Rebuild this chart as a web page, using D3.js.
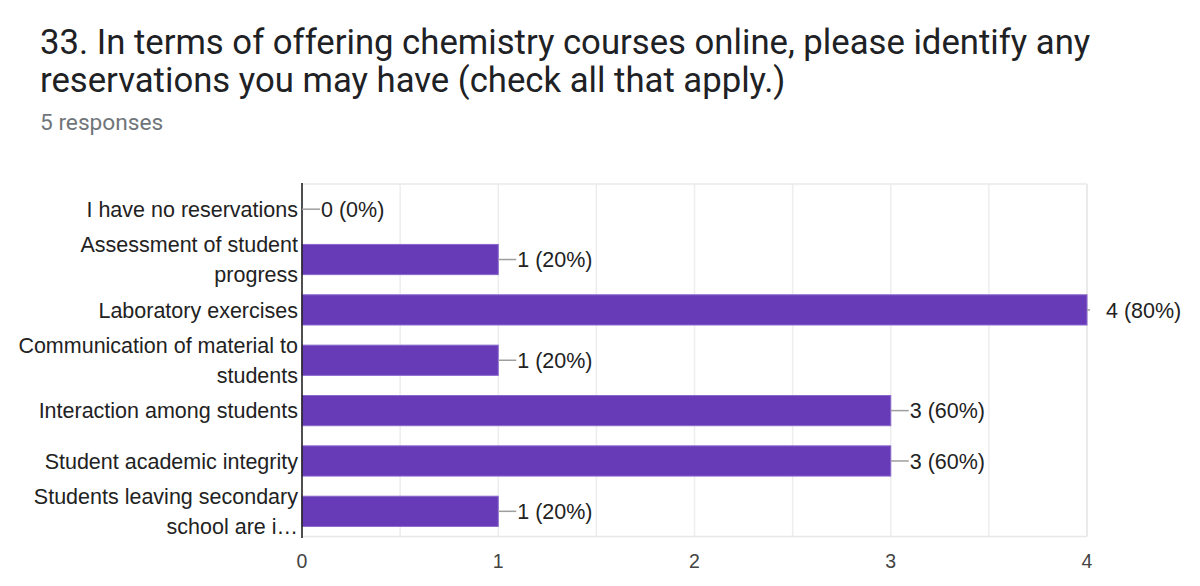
<!DOCTYPE html>
<html>
<head>
<meta charset="utf-8">
<script src="https://cdn.jsdelivr.net/npm/d3@7/dist/d3.min.js"></script>
<style>
  html, body { margin: 0; padding: 0; background: #fff; }
  svg { display: block; }
</style>
</head>
<body>
<svg id="chart" width="1200" height="586"></svg>
<script>
const titleLines = [
  "33. In terms of offering chemistry courses online, please identify any",
  "reservations you may have (check all that apply.)"
];
const subtitle = "5 responses";
const categories = [
  "I have no reservations",
  "Assessment of student\nprogress",
  "Laboratory exercises",
  "Communication of material to\nstudents",
  "Interaction among students",
  "Student academic integrity",
  "Students leaving secondary\nschool are i\u2026"
];
const counts = [0, 1, 4, 1, 3, 3, 1];
const percents = [0, 20, 80, 20, 60, 60, 20];
const xTicks = [0, 1, 2, 3, 4];
const gridValues = [0.5, 1, 1.5, 2, 2.5, 3, 3.5, 4];

const svg = d3.select("#chart");
const pLeft = 302, pRight = 1087, pTop = 184, pBottom = 536.5;
const labelFont = "Liberation Sans, Arial, sans-serif";

const x = d3.scaleLinear().domain([0, 4]).range([pLeft, pRight]);
const y = d3.scaleBand().domain(categories).range([pTop, pBottom])
  .paddingInner(0.4).paddingOuter(0.2);

// Title
svg.append("g").selectAll("text").data(titleLines).join("text")
  .attr("x", 40).attr("y", (d, i) => 54 + i * 38)
  .attr("font-family", "Roboto, sans-serif")
  .attr("font-size", 34.7).attr("fill", "#202124")
  .text(d => d);
svg.append("text").attr("x", 40).attr("y", 130)
  .attr("font-family", "Roboto, sans-serif")
  .attr("font-size", 22.7).attr("fill", "#70757a")
  .text(subtitle);

// Grid
const grid = svg.append("g");
grid.selectAll("line").data(gridValues).join("line")
  .attr("x1", d => x(d)).attr("x2", d => x(d))
  .attr("y1", pTop).attr("y2", pBottom)
  .attr("stroke", d => d === 4 ? "#e3e3e3" : "#ededed").attr("stroke-width", 1.5);
grid.append("line").attr("x1", pLeft).attr("x2", pRight).attr("y1", pTop).attr("y2", pTop)
  .attr("stroke", "#e8e8e8").attr("stroke-width", 1.5);
grid.append("line").attr("x1", pLeft).attr("x2", pRight).attr("y1", pBottom).attr("y2", pBottom)
  .attr("stroke", "#e8e8e8").attr("stroke-width", 1.5);

// Bars
const rows = categories.map((c, i) => ({ c, v: counts[i], p: percents[i] }));
svg.append("g").selectAll("rect").data(rows.filter(d => d.v > 0)).join("rect")
  .attr("x", x(0)).attr("y", d => y(d.c))
  .attr("width", d => x(d.v) - x(0)).attr("height", y.bandwidth())
  .attr("fill", "#673ab7").attr("stroke", "#8a68cc").attr("stroke-width", 1);

// Zero axis
svg.append("line").attr("x1", x(0)).attr("x2", x(0)).attr("y1", pTop - 1).attr("y2", pBottom + 1.5)
  .attr("stroke", "#222").attr("stroke-width", 1.6);

// Value labels
const vl = svg.append("g").selectAll("g").data(rows).join("g");
vl.append("line")
  .attr("x1", d => x(d.v)).attr("x2", d => x(d.v) + (d.v === 4 ? 3 : 18))
  .attr("y1", d => y(d.c) + y.bandwidth() / 2).attr("y2", d => y(d.c) + y.bandwidth() / 2)
  .attr("stroke", "#9e9e9e").attr("stroke-width", 1.5);
vl.append("text")
  .attr("x", d => x(d.v) + 19)
  .attr("y", d => y(d.c) + y.bandwidth() / 2)
  .attr("dy", "0.36em")
  .attr("font-family", labelFont)
  .attr("font-size", 21.5).attr("fill", "#222")
  .text(d => `${d.v} (${d.p}%)`);

// Category labels
const cl = svg.append("g").selectAll("text").data(categories).join("text")
  .attr("text-anchor", "end")
  .attr("font-family", labelFont)
  .attr("font-size", 21.5).attr("fill", "#222");
cl.each(function (d) {
  const lines = d.split("\n");
  const cy = y(d) + y.bandwidth() / 2;
  const t = d3.select(this);
  lines.forEach((ln, i) => {
    t.append("tspan").attr("x", 298)
      .attr("y", cy + (i - (lines.length - 1) / 2) * 30)
      .attr("dy", "0.36em").text(ln);
  });
});

// X axis tick labels
svg.append("g").selectAll("text").data(xTicks).join("text")
  .attr("x", d => x(d)).attr("y", 561).attr("dy", "0.36em")
  .attr("text-anchor", "middle")
  .attr("font-family", labelFont)
  .attr("font-size", 19.5).attr("fill", "#444")
  .text(d => d);
</script>
</body>
</html>
